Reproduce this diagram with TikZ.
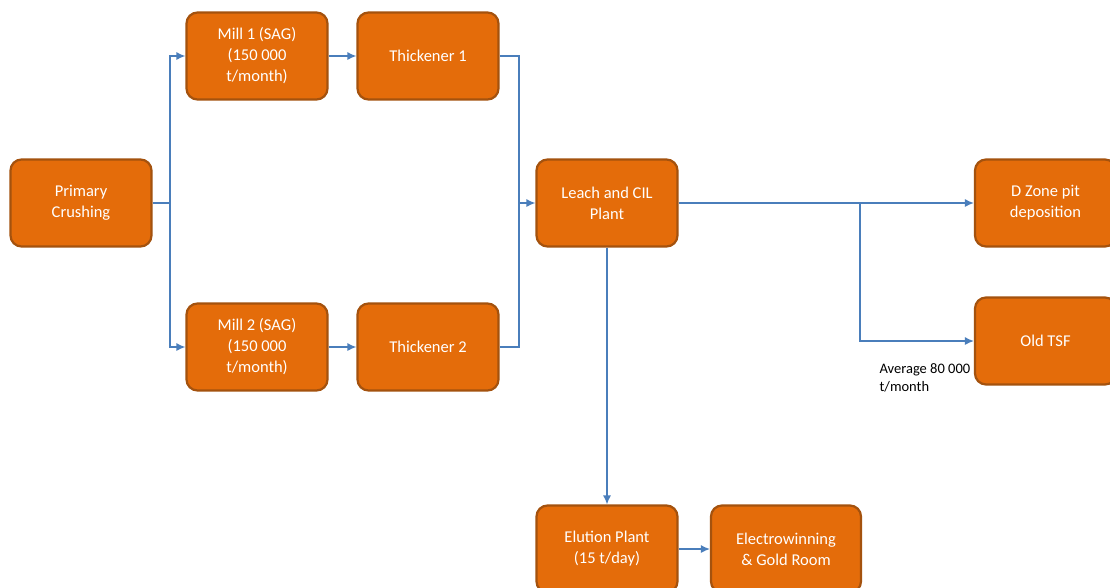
\documentclass[tikz,border=0pt]{standalone}
\usepackage{fontspec}
\setmainfont{Carlito}
\usetikzlibrary{arrows.meta}
\definecolor{boxfill}{HTML}{E46C0A}
\definecolor{boxline}{HTML}{A4520E}
\definecolor{flowblue}{HTML}{4A7EBB}
\tikzset{
	unit/.style={draw=boxline, line width=2.2pt, fill=boxfill, rounded corners=11pt,
		minimum width=141pt, minimum height=87pt, text=white, align=center,
		font=\fontsize{16.5}{21}\selectfont, inner sep=2pt},
	pipe/.style={draw=flowblue, line width=1.3pt},
	flow/.style={pipe, -{Latex[length=9pt,width=8pt]}},
}

\begin{document}
\begin{tikzpicture}[x=1pt,y=-1pt]%[y=-1pt: rows run downwards as in the sheet]
	\useasboundingbox[fill=white] (0,0) rectangle (1110,587);
	% process units
	\node[unit] (pc) at (81,203) {Primary\\Crushing};
	\node[unit] (m1) at (257,56) {Mill 1 (SAG)\\(150 000\\t/month)};
	\node[unit] (t1) at (428,56) {Thickener 1};
	\node[unit] (m2) at (257,347) {Mill 2 (SAG)\\(150 000\\t/month)};
	\node[unit] (t2) at (428,347) {Thickener 2};
	\node[unit] (lc) at (607,203) {Leach and CIL\\Plant};
	\node[unit] (dz) at (1045.5,203) {D Zone pit\\deposition};
	\node[unit] (ot) at (1045.5,341) {Old TSF};
	\node[unit] (el) at (607,549) {Elution Plant\\(15 t/day)};
	\node[unit, minimum width=150pt] (ew) at (786,549) {Electrowinning\\\& Gold Room};
	\node[anchor=west, align=left, font=\fontsize{14.5}{18}\selectfont] (avg) at (876,378) {Average 80 000\\t/month};
	% split, join and tee points
	\coordinate (split) at (170,203);
	\coordinate (join) at (519,203);
	\coordinate (tee) at (860,203);
	% connectors
	\draw[pipe] (pc.east) -- (split);
	\foreach \m/\t in {m1/t1, m2/t2}
	{
		\draw[flow] (split) |- (\m.west);
		\draw[flow] (\m.east) -- (\t.west);
		\draw[pipe] (\t.east) -| (join);
	}
	\draw[flow] (join) -- (lc.west);
	\draw[flow] (lc.east) -- (dz.west);
	\draw[flow] (tee) |- (ot.west);
	\draw[flow] (lc.south) -- (el.north);
	\draw[flow] (el.east) -- (ew.west);
\end{tikzpicture}
\end{document}
